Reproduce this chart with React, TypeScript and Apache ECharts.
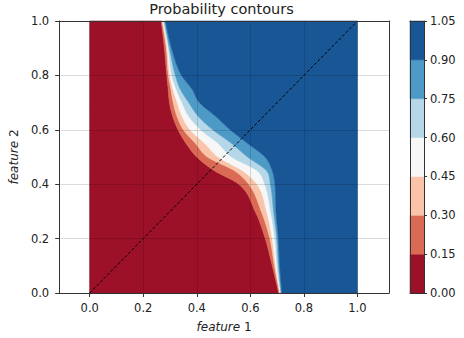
import React, { useEffect, useRef } from "react";
import * as echarts from "echarts";

const levels = [0, 0.15, 0.3, 0.45, 0.6, 0.75, 0.9, 1.05];
const bandColors = ["#9c1127", "#da6a54", "#f9c4a9", "#f7f7f7", "#b6d7e8", "#4e9ac7", "#195696"];

// y positions at which each contour boundary x was read
const yRows = [0, 0.1, 0.2, 0.3, 0.4, 0.45, 0.5, 0.55, 0.6, 0.65, 0.7, 0.75, 0.8, 0.9, 1.0];
const edge015 = [0.706, 0.682, 0.656, 0.618, 0.557, 0.465, 0.4, 0.36, 0.33, 0.31, 0.298, 0.293, 0.288, 0.279, 0.267];
const edge030 = [0.709, 0.69, 0.673, 0.641, 0.594, 0.54, 0.44, 0.395, 0.35, 0.326, 0.312, 0.303, 0.294, 0.286, 0.27];
const edge045 = [0.711, 0.695, 0.682, 0.661, 0.625, 0.57, 0.48, 0.43, 0.375, 0.345, 0.327, 0.311, 0.3, 0.29, 0.274];
const edge060 = [0.713, 0.7, 0.692, 0.676, 0.654, 0.625, 0.53, 0.48, 0.415, 0.37, 0.345, 0.323, 0.307, 0.294, 0.276];
const edge075 = [0.715, 0.705, 0.699, 0.687, 0.675, 0.66, 0.59, 0.53, 0.46, 0.405, 0.37, 0.338, 0.32, 0.298, 0.279];
const edge090 = [0.718, 0.71, 0.705, 0.696, 0.692, 0.682, 0.655, 0.59, 0.525, 0.47, 0.41, 0.382, 0.343, 0.306, 0.283];
const domainLeft = yRows.map(() => 0);
const domainRight = yRows.map(() => 1);

const xTicks = [0, 0.2, 0.4, 0.6, 0.8, 1.0];
const yTicks = [0, 0.2, 0.4, 0.6, 0.8, 1.0];
const diagonal = [
  [0, 0],
  [1, 1],
];

const xMin = -0.114;
const xMax = 1.118;

const FONT = "DejaVu Sans";
const TXT = "#222";
const SPINE = "#333";
const TICK_FS = 11.5;
const NAME_FS = 12;

// monotone cubic (Fritsch-Carlson) tangents for x as a function of y
function tangents(ys: number[], xs: number[]) {
  const n = ys.length;
  const d: number[] = [];
  for (let k = 0; k < n - 1; k++) d.push((xs[k + 1] - xs[k]) / (ys[k + 1] - ys[k]));
  const m: number[] = new Array(n).fill(0);
  m[0] = d[0];
  m[n - 1] = d[n - 2];
  for (let k = 1; k < n - 1; k++) m[k] = d[k - 1] * d[k] <= 0 ? 0 : (d[k - 1] + d[k]) / 2;
  for (let k = 0; k < n - 1; k++) {
    if (d[k] === 0) {
      m[k] = 0;
      m[k + 1] = 0;
      continue;
    }
    const a = m[k] / d[k];
    const b = m[k + 1] / d[k];
    const s = a * a + b * b;
    if (s > 9) {
      const t = 3 / Math.sqrt(s);
      m[k] = t * a * d[k];
      m[k + 1] = t * b * d[k];
    }
  }
  return m;
}

function smoothEdge(ys: number[], xs: number[], steps: number) {
  const m = tangents(ys, xs);
  const out: number[][] = [];
  for (let k = 0; k < ys.length - 1; k++) {
    const h = ys[k + 1] - ys[k];
    for (let s = 0; s < steps; s++) {
      const t = s / steps;
      const t2 = t * t;
      const t3 = t2 * t;
      const x =
        (2 * t3 - 3 * t2 + 1) * xs[k] +
        (t3 - 2 * t2 + t) * h * m[k] +
        (-2 * t3 + 3 * t2) * xs[k + 1] +
        (t3 - t2) * h * m[k + 1];
      out.push([x, ys[k] + t * h]);
    }
  }
  out.push([xs[xs.length - 1], ys[ys.length - 1]]);
  return out;
}

export default function App() {
  const ref = useRef<HTMLDivElement>(null);

  useEffect(() => {
    if (!ref.current) return;
    const chart = echarts.init(ref.current, undefined, { renderer: "svg" });
    const edges = [domainLeft, edge015, edge030, edge045, edge060, edge075, edge090, domainRight].map((e) =>
      smoothEdge(yRows, e, 10)
    );

    const hiddenAxisBase = {
      axisLabel: { show: false },
      axisTick: { show: false },
      splitLine: { show: false },
      axisLine: { show: true, onZero: false, lineStyle: { color: SPINE, width: 1 } },
      z: 5,
    };

    const option: any = {
      animation: false,
      backgroundColor: "#fff",
      textStyle: { fontFamily: FONT },
      graphic: [
        {
          type: "text",
          x: 221.5,
          y: 9,
          style: {
            text: "Probability contours",
            fontFamily: FONT,
            fontSize: 14.5,
            fill: TXT,
            textAlign: "center",
            textVerticalAlign: "middle",
          },
        },
      ],
      grid: [
        { left: 54, top: 21, width: 335, height: 272, containLabel: false },
        { left: 410, top: 21, width: 14, height: 272, containLabel: false },
      ],
      xAxis: [
        {
          type: "value",
          gridIndex: 0,
          min: xMin,
          max: xMax,
          position: "bottom",
          z: 5,
          axisLine: { show: true, onZero: false, lineStyle: { color: SPINE, width: 1 } },
          axisTick: { show: true, length: 4, lineStyle: { color: SPINE }, customValues: xTicks },
          axisLabel: {
            customValues: xTicks,
            formatter: (v: number) => v.toFixed(1),
            color: TXT,
            fontFamily: FONT,
            fontSize: TICK_FS,
            margin: 9,
          },
          splitLine: { show: false },
          name: "{i|feature} 1",
          nameLocation: "middle",
          nameGap: 28,
          nameTextStyle: {
            color: TXT,
            fontFamily: FONT,
            fontSize: NAME_FS,
            rich: { i: { fontStyle: "italic", fontFamily: FONT, fontSize: NAME_FS, color: TXT } },
          },
        },
        { type: "value", gridIndex: 0, min: xMin, max: xMax, position: "top", ...hiddenAxisBase },
        { type: "value", gridIndex: 1, min: 0, max: 1, position: "bottom", ...hiddenAxisBase },
        { type: "value", gridIndex: 1, min: 0, max: 1, position: "top", ...hiddenAxisBase },
      ],
      yAxis: [
        {
          type: "value",
          gridIndex: 0,
          min: 0,
          max: 1,
          interval: 0.2,
          position: "left",
          z: 5,
          axisLine: { show: true, onZero: false, lineStyle: { color: SPINE, width: 1 } },
          axisTick: { show: true, length: 4, lineStyle: { color: SPINE } },
          axisLabel: {
            formatter: (v: number) => v.toFixed(1),
            color: TXT,
            fontFamily: FONT,
            fontSize: TICK_FS,
            margin: 10,
          },
          splitLine: { show: false },
          name: "{i|feature} 2",
          nameLocation: "middle",
          nameGap: 38,
          nameRotate: 90,
          nameTextStyle: {
            color: TXT,
            fontFamily: FONT,
            fontSize: NAME_FS,
            rich: { i: { fontStyle: "italic", fontFamily: FONT, fontSize: NAME_FS, color: TXT } },
          },
        },
        { type: "value", gridIndex: 0, min: 0, max: 1, position: "right", ...hiddenAxisBase },
        {
          type: "value",
          gridIndex: 1,
          min: 0,
          max: 1.05,
          interval: 0.15,
          position: "right",
          z: 5,
          axisLine: { show: true, onZero: false, lineStyle: { color: SPINE, width: 1 } },
          axisTick: { show: true, length: 3, lineStyle: { color: SPINE } },
          axisLabel: {
            formatter: (v: number) => v.toFixed(2),
            color: TXT,
            fontFamily: FONT,
            fontSize: TICK_FS,
            margin: 6,
          },
          splitLine: { show: false },
        },
        { type: "value", gridIndex: 1, min: 0, max: 1.05, position: "left", ...hiddenAxisBase },
      ],
      series: [
        {
          type: "custom",
          xAxisIndex: 0,
          yAxisIndex: 0,
          coordinateSystem: "cartesian2d",
          silent: true,
          data: bandColors.map((_, i) => [i]),
          renderItem: (_p: any, api: any) => {
            const i = api.value(0);
            const lo = edges[i];
            const hi = edges[i + 1];
            const pts: number[][] = [];
            for (let j = 0; j < lo.length; j++) pts.push(api.coord(lo[j]));
            for (let j = hi.length - 1; j >= 0; j--) pts.push(api.coord(hi[j]));
            return {
              type: "polygon",
              shape: { points: pts },
              style: { fill: bandColors[i], stroke: bandColors[i], lineWidth: 0.6 },
            };
          },
          z: 2,
        },
        {
          type: "line",
          xAxisIndex: 0,
          yAxisIndex: 0,
          data: diagonal,
          symbol: "none",
          silent: true,
          lineStyle: { color: "#000", width: 1, type: [3, 2] },
          z: 4,
          markLine: {
            silent: true,
            symbol: ["none", "none"],
            label: { show: false },
            lineStyle: { color: "rgba(0,0,0,0.14)", width: 1, type: "solid" },
            data: [...xTicks.map((v) => ({ xAxis: v })), ...yTicks.map((v) => ({ yAxis: v }))],
          },
        },
        {
          type: "custom",
          xAxisIndex: 2,
          yAxisIndex: 2,
          coordinateSystem: "cartesian2d",
          silent: true,
          data: bandColors.map((_, i) => [i]),
          renderItem: (_p: any, api: any) => {
            const i = api.value(0);
            const a = api.coord([0, levels[i]]);
            const b = api.coord([1, levels[i + 1]]);
            return {
              type: "rect",
              shape: { x: a[0], y: b[1], width: b[0] - a[0], height: a[1] - b[1] },
              style: { fill: bandColors[i], stroke: bandColors[i], lineWidth: 0.5 },
            };
          },
          z: 2,
        },
      ],
    };

    chart.setOption(option);
    return () => chart.dispose();
  }, []);

  return <div ref={ref} style={{ position: "fixed", left: 0, top: 0, width: 464, height: 338 }} />;
}
